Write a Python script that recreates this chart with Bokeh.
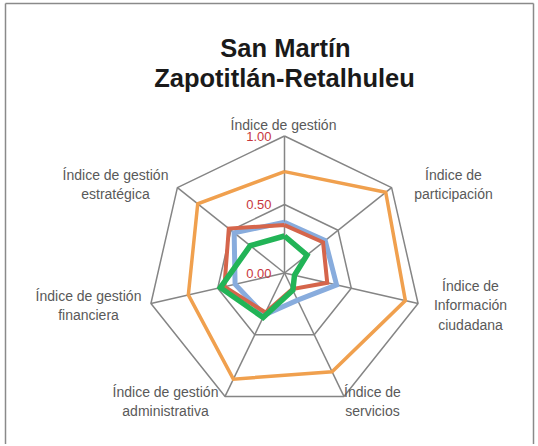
import math
from bokeh.plotting import figure
from bokeh.models import Range1d
from bokeh.core.properties import value
from bokeh.embed import file_html
from bokeh.resources import INLINE

# ---- data ----
categories = [
    "Índice de gestión",
    "Índice de\nparticipación",
    "Índice de\nInformación\nciudadana",
    "Índice de\nservicios",
    "Índice de gestión\nadministrativa",
    "Índice de gestión\nfinanciera",
    "Índice de gestión\nestratégica",
]
orange_vals = [0.74, 0.945, 0.905, 0.80, 0.86, 0.72, 0.81]
blue_vals = [0.37, 0.38, 0.39, 0.22, 0.34, 0.37, 0.47]
red_vals = [0.35, 0.36, 0.32, 0.13, 0.32, 0.45, 0.52]
green_vals = [0.27, 0.21, 0.075, 0.14, 0.36, 0.48, 0.32]
tick_values = [0.0, 0.5, 1.0]
tick_labels = ["0.00", "0.50", "1.00"]
title_lines = ["San Martín", "Zapotitlán-Retalhuleu"]

# ---- layout (canvas pixels, y downward) ----
W, H = 536, 444
CX, CY = 284, 272.5
R = 137
label_pos = [(283, 124), (453, 184), (470, 305), (372, 401), (165, 401), (88, 305), (115, 184)]

p = figure(width=W, height=H, output_backend="svg", toolbar_location=None,
           x_range=Range1d(0, W), y_range=Range1d(H, 0), min_border=0)
p.axis.visible = False
p.grid.visible = False
p.outline_line_color = None
p.background_fill_color = "white"

n = len(categories)
angles = [2 * math.pi * i / n for i in range(n)]


def pts(vals):
    xs = [CX + R * v * math.sin(a) for v, a in zip(vals, angles)]
    ys = [CY - R * v * math.cos(a) for v, a in zip(vals, angles)]
    return xs + xs[:1], ys + ys[:1]


grid_col = "#858585"
# rings
for tv in tick_values[1:]:
    xs, ys = pts([tv] * n)
    p.line(xs, ys, line_color=grid_col, line_width=1.5)
# spokes
for a in angles:
    p.line([CX, CX + R * math.sin(a)], [CY, CY - R * math.cos(a)], line_color=grid_col, line_width=1.5)

# series
for vals, col, lw in [(orange_vals, "#F0A04E", 3.5), (blue_vals, "#88ACDD", 5),
                      (red_vals, "#D5654B", 4), (green_vals, "#22B457", 5.5)]:
    xs, ys = pts(vals)
    p.line(xs, ys, line_color=col, line_width=lw, line_join="miter")

# tick labels
p.text(x=[CX - 13] * len(tick_values), y=[CY - R * t for t in tick_values], text=tick_labels,
       text_align="right", text_baseline="middle", text_color="#C8363D",
       text_font=value("Liberation Sans"), text_font_size="13px")

# category labels
p.text(x=[lp[0] for lp in label_pos], y=[lp[1] for lp in label_pos], text=categories,
       text_align="center", text_baseline="middle", text_color="#595959",
       text_font=value("Liberation Sans"), text_font_size="14px", text_line_height=1.2)

# title
p.text(x=[285, 284], y=[47, 77], text=title_lines, text_align="center", text_baseline="middle",
       text_color="#1a1a1a", text_font=value("Liberation Sans"), text_font_style="bold",
       text_font_size="25.5px")

# frame
p.line([5, 5], [H, 3], line_color="#8a8a8a", line_width=1.5)
p.line([5, 533], [3, 3], line_color="#8a8a8a", line_width=1.5)
p.line([533, 533], [3, H], line_color="#8a8a8a", line_width=1.5)

open("out.html", "w").write(file_html(p, INLINE))
